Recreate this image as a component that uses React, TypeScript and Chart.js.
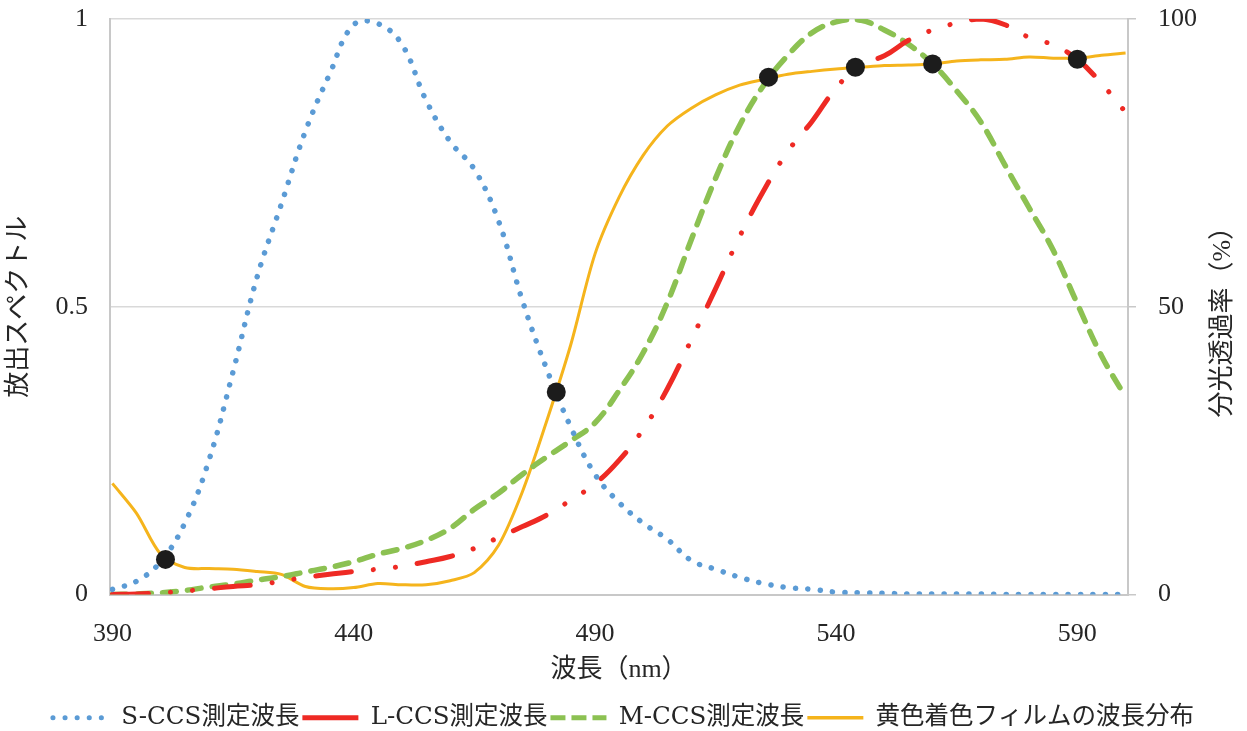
import React, { useEffect, useRef } from "react";
import { Chart, registerables } from "chart.js";

Chart.register(...registerables);

// wavelength (nm)
const wavelengths = [
  390, 395, 400, 405, 410, 415, 420, 425, 430, 435, 440, 445, 450, 455, 460,
  465, 470, 475, 480, 485, 490, 495, 500, 505, 510, 515, 520, 525, 530, 535,
  540, 545, 550, 555, 560, 565, 570, 575, 580, 585, 590, 595, 600,
];

// left axis: emission spectrum (0-1)
const sCcs = [
  0.009, 0.023, 0.057, 0.124, 0.233, 0.387, 0.552, 0.678, 0.805, 0.904, 0.99,
  0.992, 0.956, 0.859, 0.787, 0.739, 0.65, 0.51, 0.392, 0.291, 0.209, 0.16,
  0.124, 0.096, 0.059, 0.044, 0.03, 0.019, 0.012, 0.009, 0.004, 0.003, 0.002,
  0.001, 0.001, 0.001, 0.001, 0, 0, 0, 0, 0, 0,
];
const lCcs = [
  0, 0.001, 0.003, 0.006, 0.01, 0.014, 0.017, 0.023, 0.03, 0.035, 0.04, 0.044,
  0.049, 0.057, 0.066, 0.08, 0.099, 0.118, 0.138, 0.164, 0.192, 0.233, 0.287,
  0.357, 0.443, 0.531, 0.622, 0.702, 0.77, 0.822, 0.88, 0.92, 0.936, 0.963,
  0.981, 0.993, 1.0, 0.99, 0.968, 0.955, 0.93, 0.888, 0.838,
];
const mCcs = [
  0, 0.001, 0.003, 0.007, 0.013, 0.018, 0.025, 0.031, 0.039, 0.047, 0.057,
  0.07, 0.08, 0.094, 0.115, 0.148, 0.176, 0.209, 0.239, 0.267, 0.298, 0.354,
  0.42, 0.507, 0.617, 0.723, 0.815, 0.885, 0.937, 0.976, 0.995, 0.998, 0.981,
  0.956, 0.922, 0.875, 0.821, 0.746, 0.672, 0.598, 0.505, 0.415, 0.343,
];

// right axis: spectral transmittance (%)
const yellowFilm = [
  19.3, 14.1, 7.0, 4.7, 4.5, 4.4, 4.0, 3.5, 1.4, 1.0, 1.2, 1.9, 1.7, 1.7, 2.4,
  3.8, 8.5, 17.9, 30.1, 43.4, 59.1, 69.0, 76.3, 81.4, 84.5, 86.8, 88.5, 89.5,
  90.4, 90.9, 91.3, 91.6, 91.9, 92.0, 92.2, 92.7, 92.9, 93.0, 93.4, 93.2, 93.2,
  93.7, 94.1,
];

// black intersection markers (on the film curve)
const markerWavelengths = [401, 482, 526, 544, 560, 590];
const markerValues = [6.1, 35.2, 89.9, 91.6, 92.2, 93.0];

const xTicks = [390, 440, 490, 540, 590];
const leftTicks = [0, 0.5, 1];
const rightTicks = [0, 50, 100];

const seriesLabels = [
  "S-CCS測定波長",
  "L-CCS測定波長",
  "M-CCS測定波長",
  "黄色着色フィルムの波長分布",
];
const xTitle = "波長（nm）";
const leftTitle = "放出スペクトル";
const rightTitle = "分光透過率（%）";

const BLUE = "#5b9bd5";
const RED = "#ee2a24";
const GREEN = "#8cc152";
const YELLOW = "#f5b41c";
const AXIS = "#c8c8c8";
const TEXT = "#262626";
const TICK_FONT = "'Liberation Serif', 'Noto Sans CJK JP', serif";
const CJK_FONT = "'Liberation Serif', 'Noto Sans CJK JP', serif";

const pts = (vals: number[]) => wavelengths.map((w, i) => ({ x: w, y: vals[i] }));

const legendStyles = [
  { lineDash: [0.1, 12], lineWidth: 5, lineCap: "round", strokeStyle: BLUE },
  { lineDash: [], lineWidth: 5, lineCap: "butt", strokeStyle: RED },
  { lineDash: [15, 6], lineWidth: 5, lineCap: "butt", strokeStyle: GREEN },
  { lineDash: [], lineWidth: 3.5, lineCap: "butt", strokeStyle: YELLOW },
];

const rightTitlePlugin = {
  id: "rightTitle",
  afterDraw(chart: any) {
    const { ctx, chartArea } = chart;
    const y1 = chart.scales.y1;
    ctx.save();
    ctx.font = `26px ${CJK_FONT}`;
    ctx.fillStyle = TEXT;
    ctx.translate(y1.right - 24, (chartArea.top + chartArea.bottom) / 2 + 9);
    ctx.rotate(-Math.PI / 2);
    ctx.textAlign = "center";
    ctx.textBaseline = "middle";
    ctx.fillText(rightTitle, 0, 0);
    ctx.restore();
  },
};

const zeroVPad = (s: any) => {
  s.paddingTop = 0;
  s.paddingBottom = 0;
};

export default function App() {
  const ref = useRef<HTMLCanvasElement | null>(null);

  useEffect(() => {
    if (!ref.current) return;
    const chart = new Chart(ref.current, {
      type: "line",
      data: {
        datasets: [
          {
            type: "scatter",
            label: "markers",
            data: markerWavelengths.map((w, i) => ({ x: w, y: markerValues[i] })),
            yAxisID: "y1",
            pointRadius: 9.5,
            pointBackgroundColor: "#1c1c1c",
            pointBorderColor: "#1c1c1c",
            pointBorderWidth: 0,
            showLine: false,
            order: -1,
          } as any,
          {
            label: seriesLabels[0],
            data: pts(sCcs),
            yAxisID: "y",
            borderColor: BLUE,
            borderWidth: 5.5,
            borderDash: [0.1, 12.3],
            borderCapStyle: "round",
            pointRadius: 0,
            tension: 0.4,
            fill: false,
          },
          {
            label: seriesLabels[1],
            data: pts(lCcs),
            yAxisID: "y",
            borderColor: RED,
            borderWidth: 5,
            borderDash: [36, 22, 0.1, 22, 0.1, 22],
            borderCapStyle: "round",
            pointRadius: 0,
            tension: 0.4,
            fill: false,
          },
          {
            label: seriesLabels[2],
            data: pts(mCcs),
            yAxisID: "y",
            borderColor: GREEN,
            borderWidth: 5.5,
            borderDash: [14, 11],
            borderCapStyle: "round",
            pointRadius: 0,
            tension: 0.4,
            fill: false,
          },
          {
            label: seriesLabels[3],
            data: pts(yellowFilm),
            yAxisID: "y1",
            borderColor: YELLOW,
            borderWidth: 3,
            pointRadius: 0,
            tension: 0.3,
            fill: false,
          },
        ],
      },
      options: {
        responsive: false,
        animation: false,
        layout: { padding: { top: 19, left: 0, right: 0, bottom: -9 } },
        plugins: {
          tooltip: { enabled: false },
          legend: {
            position: "bottom",
            labels: {
              usePointStyle: true,
              pointStyleWidth: 56,
              padding: 3,
              color: TEXT,
              font: { family: "'DejaVu Serif', 'Noto Sans CJK JP', serif", size: 24.5 },
              generateLabels: (chart: any) => {
                const items = Chart.defaults.plugins.legend.labels.generateLabels(chart);
                return items
                  .filter((it: any) => it.datasetIndex >= 1)
                  .map((it: any) => ({
                    ...it,
                    ...legendStyles[it.datasetIndex - 1],
                    pointStyle: "line",
                    fillStyle: "transparent",
                  }));
              },
            },
          },
        },
        scales: {
          x: {
            type: "linear",
            min: 389.5,
            max: 600.5,
            afterBuildTicks: (s: any) => {
              s.ticks = xTicks.map((v) => ({ value: v }));
            },
            afterFit: (s: any) => {
              s.height = 108;
              s.paddingLeft = 0;
              s.paddingRight = 0;
            },
            grid: { display: true, drawOnChartArea: false, drawTicks: false },
            border: { display: true, color: AXIS, width: 2 },
            ticks: {
              color: TEXT,
              font: { family: TICK_FONT, size: 26 },
              padding: 24,
              maxRotation: 0,
              callback: (v: any) => String(v),
            },
            title: {
              display: true,
              text: xTitle,
              color: TEXT,
              font: { family: CJK_FONT, size: 26 },
              padding: { top: 0, bottom: 17 },
            },
          },
          y: {
            position: "left",
            min: 0,
            max: 1,
            afterBuildTicks: (s: any) => {
              s.ticks = leftTicks.map((v) => ({ value: v }));
            },
            afterFit: (s: any) => {
              s.width = 110;
              zeroVPad(s);
            },
            grid: { color: "#d9d9d9", lineWidth: 1.5, drawTicks: false },
            border: { display: true, color: AXIS, width: 2 },
            ticks: {
              color: TEXT,
              font: { family: TICK_FONT, size: 26 },
              padding: 22,
              callback: (v: any) => String(v),
            },
            title: {
              display: true,
              text: leftTitle,
              color: TEXT,
              font: { family: CJK_FONT, size: 26 },
              padding: { top: 4, bottom: 0 },
            },
          },
          y1: {
            position: "right",
            min: 0,
            max: 100,
            afterBuildTicks: (s: any) => {
              s.ticks = rightTicks.map((v) => ({ value: v }));
            },
            afterFit: (s: any) => {
              s.width = 119;
              zeroVPad(s);
            },
            grid: {
              drawOnChartArea: false,
              drawTicks: true,
              tickLength: 8,
              color: AXIS,
              lineWidth: 1.5,
            },
            border: { display: true, color: AXIS, width: 2 },
            ticks: {
              color: TEXT,
              font: { family: TICK_FONT, size: 26 },
              padding: 22,
              callback: (v: any) => String(v),
            },
          },
        },
      } as any,
      plugins: [rightTitlePlugin],
    });
    return () => chart.destroy();
  }, []);

  return (
    <div style={{ position: "fixed", left: 0, top: 0, width: 1247, height: 731, background: "#fff" }}>
      <canvas ref={ref} width={1247} height={731} style={{ display: "block" }} />
    </div>
  );
}
